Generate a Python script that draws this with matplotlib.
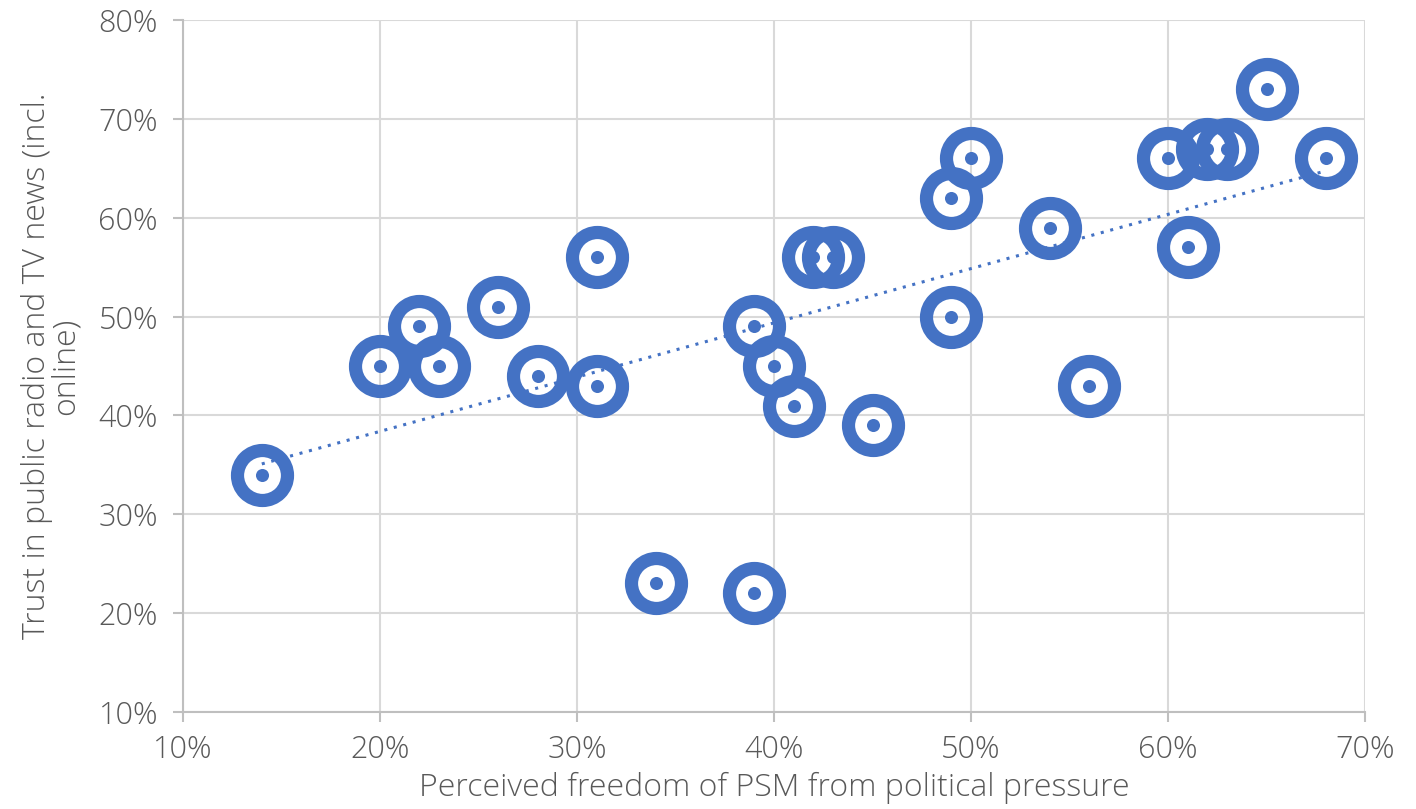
import numpy as np
import matplotlib
matplotlib.use("Agg")
import matplotlib.pyplot as plt
from matplotlib.ticker import FuncFormatter, MultipleLocator

freedom = [14, 20, 22, 23, 26, 28, 31, 31, 34, 39, 39, 40, 41, 42, 43, 45,
           49, 49, 50, 54, 56, 60, 61, 62, 63, 65, 68]
trust = [34, 45, 49, 45, 51, 44, 56, 43, 23, 22, 49, 45, 41, 56, 56, 39,
         62, 50, 66, 59, 43, 66, 57, 67, 67, 73, 66]

x_label = "Perceived freedom of PSM from political pressure"
y_label = "Trust in public radio and TV news (incl.\nonline)"

blue = "#4472C4"
grey_text = "#595959"
plt.rcParams['font.family'] = ['Open Sans', 'DejaVu Sans']

fig = plt.figure(figsize=(14.16, 8.09), dpi=100)
ax = fig.add_axes([183/1416, 1-712/809, (1365-183)/1416, (712-20)/809])

x = np.array(freedom, dtype=float)
y = np.array(trust, dtype=float)
m, b = np.polyfit(x, y, 1)
xt = np.array([x.min(), x.max()])
ax.plot(xt, m*xt + b, linestyle=(0, (1, 2.2)), color=blue, lw=2.2, zorder=2)

ax.plot(x, y, linestyle='none', marker='o', markersize=36, markeredgewidth=9.5,
        markerfacecolor='none', markeredgecolor=blue, zorder=3)
ax.plot(x, y, linestyle='none', marker='o', markersize=9.4,
        markerfacecolor=blue, markeredgecolor='none', zorder=4)

ax.set_xlim(10, 70)
ax.set_ylim(10, 80)
ax.xaxis.set_major_locator(MultipleLocator(10))
ax.yaxis.set_major_locator(MultipleLocator(10))
fmt = FuncFormatter(lambda v, p: f"{v:.0f}%")
ax.xaxis.set_major_formatter(fmt)
ax.yaxis.set_major_formatter(fmt)

ax.grid(True, color="#D9D9D9", lw=1.5, zorder=0)
ax.set_axisbelow(True)
for s in ['top', 'right']:
    ax.spines[s].set_visible(False)
for s in ['left', 'bottom']:
    ax.spines[s].set_color("#BFBFBF")
    ax.spines[s].set_linewidth(1.5)
ax.tick_params(axis='both', color="#BFBFBF", length=7, width=1.5,
               labelcolor=grey_text, labelsize=22)
ax.tick_params(axis='y', pad=11)
ax.tick_params(axis='x', pad=9)
for lab in ax.get_xticklabels() + ax.get_yticklabels():
    lab.set_fontweight('light')
    lab.set_color(grey_text)

ax.set_xlabel(x_label, fontsize=23, color=grey_text, fontweight='light', labelpad=4)
ax.set_ylabel(y_label, fontsize=23, color=grey_text, fontweight='light', labelpad=12,
              linespacing=0.85)

fig.savefig("out.png", dpi=100)
